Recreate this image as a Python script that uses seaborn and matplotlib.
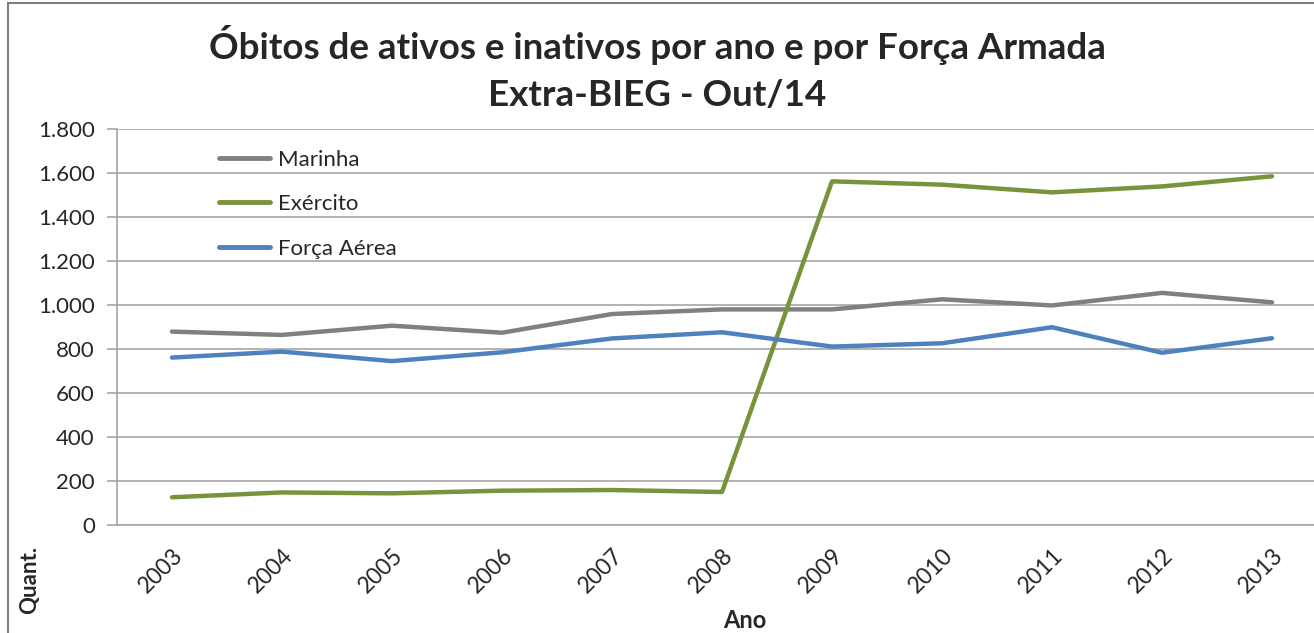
import pandas as pd
import matplotlib.pyplot as plt
import seaborn as sns
from matplotlib.patches import Rectangle
from matplotlib.ticker import FixedLocator, FuncFormatter

# dados
anos = ['2003', '2004', '2005', '2006', '2007', '2008',
        '2009', '2010', '2011', '2012', '2013']
marinha = [879, 864, 906, 874, 959, 980, 980, 1026, 998, 1055, 1012]
exercito = [126, 148, 144, 156, 159, 150, 1562, 1547, 1512, 1539, 1585]
forca_aerea = [761, 788, 745, 785, 848, 876, 811, 826, 899, 783, 849]
series = ['Marinha', 'Exército', 'Força Aérea']
cores = ['#808080', '#77933C', '#4F81BD']

df = pd.DataFrame({
    'pos': list(range(len(anos))) * 3,
    'valor': marinha + exercito + forca_aerea,
    'Força': [s for s in series for _ in anos],
})

sns.set_style('white')
plt.rcParams['font.family'] = ['Lato', 'DejaVu Sans']

fig = plt.figure(figsize=(13.14, 6.33), dpi=100)
ax = fig.add_axes([117 / 1314, 1 - 525 / 633, 1210 / 1314, 396 / 633])

sns.lineplot(data=df, x='pos', y='valor', hue='Força', hue_order=series,
             palette=cores, linewidth=3.2, sort=False, ax=ax)

ax.set_xlim(-0.5, len(anos) - 0.5)
ax.set_ylim(0, 1800)
ax.set_yticks(range(0, 1801, 200))
ax.yaxis.set_major_formatter(FuncFormatter(lambda v, p: f'{int(v):,}'.replace(',', '.')))
ax.grid(axis='y', color='#a6a6a6', linewidth=1.2)
ax.set_axisbelow(True)

# marcas entre as categorias, rótulos no centro
ax.xaxis.set_major_locator(FixedLocator([i - 0.5 for i in range(len(anos) + 1)]))
ax.xaxis.set_minor_locator(FixedLocator(range(len(anos))))
ax.set_xticklabels([''] * (len(anos) + 1))
ax.set_xticklabels(anos, minor=True, rotation=45, ha='right', rotation_mode='anchor')
ax.tick_params(axis='x', which='major', length=7, width=1.2, color='#a6a6a6', direction='out')
ax.tick_params(axis='x', which='minor', length=0, pad=14, labelsize=16.5)
ax.tick_params(axis='y', length=7, width=1.2, color='#a6a6a6', labelsize=16, pad=9)
ax.tick_params(axis='y', which='major', left=True)

for lado in ['top', 'right']:
    ax.spines[lado].set_visible(False)
for lado in ['left', 'bottom']:
    ax.spines[lado].set_color('#a6a6a6')
    ax.spines[lado].set_linewidth(1.2)

ax.set_xlabel('')
ax.set_ylabel('')
fig.text(745 / 1314, 1 - 620 / 633, 'Ano', ha='center', va='center',
         fontsize=17, fontweight='bold')
fig.text(30 / 1314, 1 - 580 / 633, 'Quant.', ha='center', va='center',
         rotation=90, fontsize=16, fontweight='bold')

leg = ax.legend(loc='upper left', bbox_to_anchor=(0.068, 0.998), frameon=False,
                fontsize=16, handlelength=2.3, labelspacing=1.1, handletextpad=0.35)
for linha in leg.get_lines():
    linha.set_linewidth(3.5)

fig.text(0.5, 1 - 45 / 633, 'Óbitos de ativos e inativos por ano e por Força Armada',
         ha='center', va='center', fontsize=26.5, fontweight='bold')
fig.text(0.5, 1 - 95 / 633, 'Extra-BIEG - Out/14',
         ha='center', va='center', fontsize=26.5, fontweight='bold')

# moldura da área do gráfico
fig.patches.append(Rectangle((8 / 1314, -0.05), 1.2, 1 - 3 / 633 + 0.05,
                             transform=fig.transFigure, fill=False,
                             edgecolor='#808080', linewidth=1.5))

plt.savefig('out.png', dpi=100)
